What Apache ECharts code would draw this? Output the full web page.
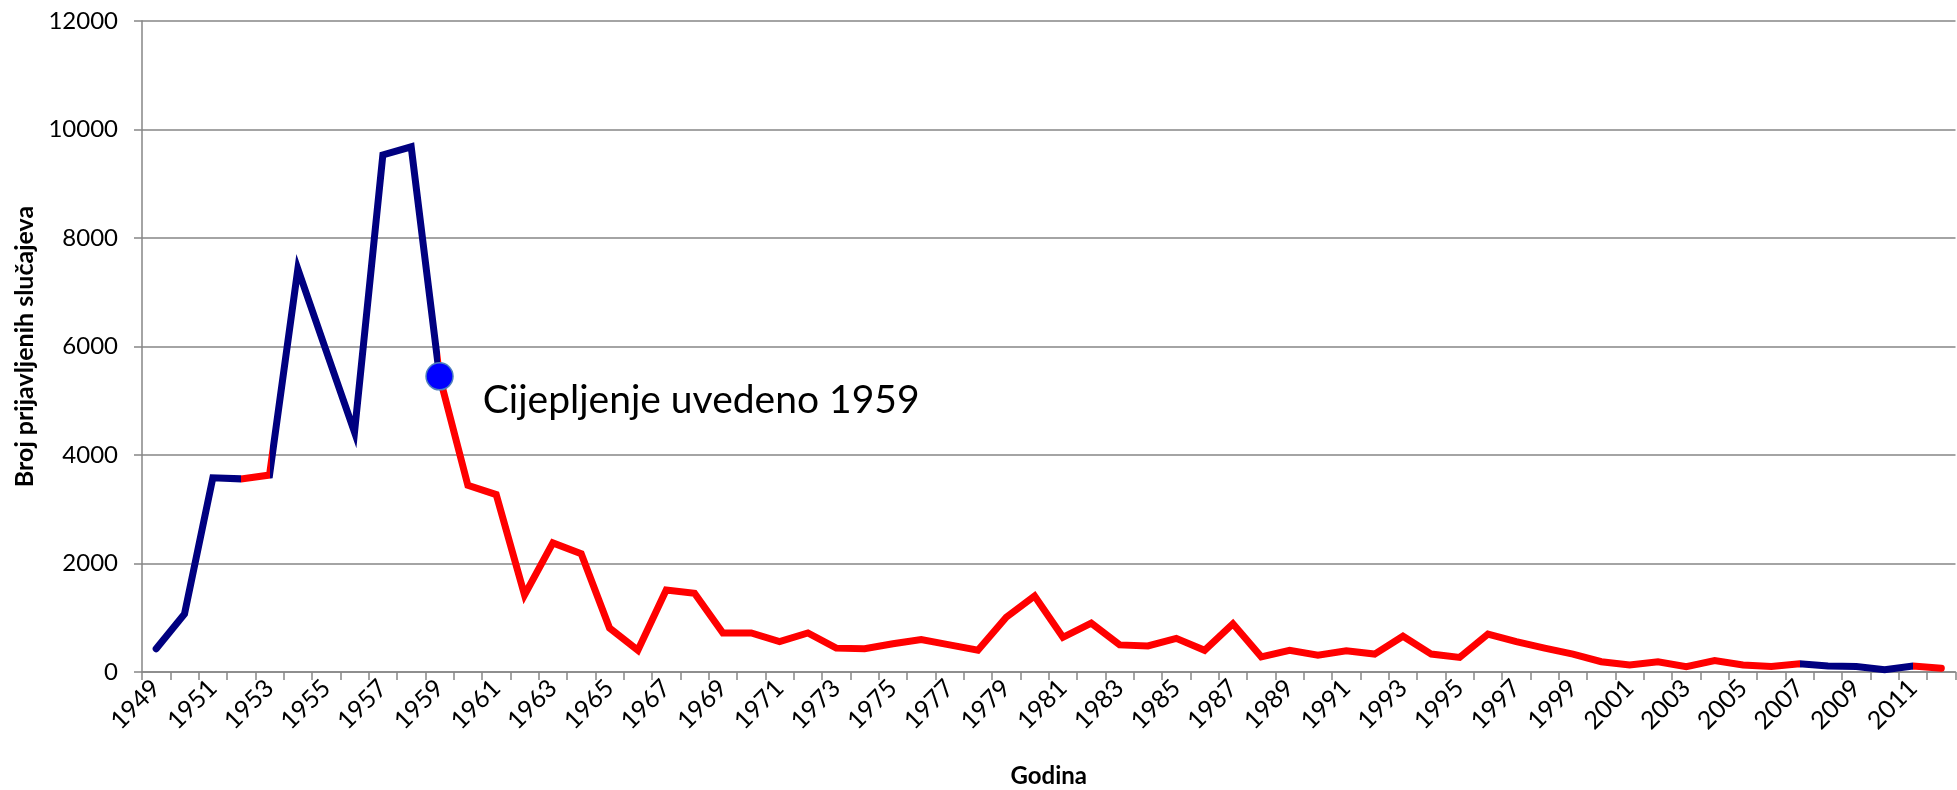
<!DOCTYPE html>
<html>
<head>
<meta charset="utf-8">
<script src="https://cdn.jsdelivr.net/npm/echarts@6/dist/echarts.min.js"></script>
<style>
  html, body { margin: 0; padding: 0; background: #fff; }
  #chart { width: 1957px; height: 790px; }
</style>
</head>
<body>
<div id="chart"></div>
<script>
// years shown on the category axis
const years = [];
for (let y = 1949; y <= 2012; y++) years.push(String(y));

// reported cases per year
const cases = [
  430, 1070, 3580, 3560, 3630, 7430, 5920, 4420, 9530, 9680,
  5450, 3440, 3270, 1420, 2380, 2180, 810, 400, 1510, 1450,
  720, 720, 560, 720, 440, 430, 520, 600, 500, 400,
  1010, 1400, 640, 900, 500, 480, 620, 400, 890, 280,
  400, 310, 390, 330, 660, 330, 270, 700, 560, 440,
  330, 190, 130, 190, 100, 210, 130, 100, 150, 110,
  100, 40, 110, 70
];

const yTicks = [0, 2000, 4000, 6000, 8000, 10000, 12000];
const markerYear = '1959';
const markerText = 'Cijepljenje uvedeno 1959';

const idx = y => years.indexOf(y);
const NAVY = '#000080';
const RED = '#ff0000';
const FONT = 'Lato';

const chart = echarts.init(document.getElementById('chart'), null, { renderer: 'canvas' });

const option = {
  animation: false,
  backgroundColor: '#fff',
  textStyle: { fontFamily: FONT, color: '#000' },
  grid: { left: 142, right: 1.5, top: 21, bottom: 118, containLabel: false, outerBoundsMode: 'none' },
  xAxis: {
    type: 'category',
    data: years,
    boundaryGap: true,
    name: 'Godina',
    nameLocation: 'middle',
    nameGap: 92,
    nameTextStyle: { fontFamily: FONT, fontWeight: 'bold', fontSize: 24, color: '#000' },
    axisLine: { lineStyle: { color: '#868686', width: 1.5 } },
    axisTick: { show: true, interval: 0, length: 8, lineStyle: { color: '#868686', width: 1.5 } },
    axisLabel: { interval: 1, rotate: 45, margin: 12, fontSize: 25, color: '#000', fontFamily: FONT },
    splitLine: { show: false }
  },
  yAxis: {
    type: 'value',
    min: yTicks[0],
    max: yTicks[yTicks.length - 1],
    interval: yTicks[1] - yTicks[0],
    name: 'Broj prijavljenih slučajeva',
    nameLocation: 'middle',
    nameGap: 102,
    nameTextStyle: { fontFamily: FONT, fontWeight: 'bold', fontSize: 25, color: '#000' },
    axisLine: { show: true, lineStyle: { color: '#868686', width: 1.5 } },
    axisTick: { show: true, length: 8, lineStyle: { color: '#868686', width: 1.5 } },
    axisLabel: { margin: 24, fontSize: 24, color: '#000', fontFamily: FONT, formatter: v => String(v) },
    splitLine: { show: true, lineStyle: { color: '#868686', width: 1.5 } }
  },
  visualMap: {
    show: false,
    seriesIndex: 0,
    dimension: 0,
    pieces: [
      { lte: idx('1952'), color: NAVY },
      { gt: idx('1952'), lte: idx('1953'), color: RED },
      { gt: idx('1953'), lte: idx('1959'), color: NAVY },
      { gt: idx('1959'), lte: idx('2007'), color: RED },
      { gt: idx('2007'), lte: idx('2011'), color: NAVY },
      { gt: idx('2011'), color: RED }
    ]
  },
  series: [
    {
      type: 'line',
      data: cases,
      showSymbol: false,
      symbol: 'none',
      lineStyle: { width: 7, cap: 'round', join: 'miter' },
      z: 2
    },
    {
      type: 'scatter',
      data: [[markerYear, cases[idx(markerYear)]]],
      symbol: 'circle',
      symbolSize: 27,
      itemStyle: { color: '#0000ff', opacity: 1, borderColor: '#4f81bd', borderWidth: 1.5 },
      label: {
        show: true,
        position: 'right',
        distance: 29,
        offset: [0, 24],
        formatter: markerText,
        fontFamily: FONT,
        fontSize: 39,
        color: '#000'
      },
      z: 3
    }
  ]
};

chart.setOption(option);
</script>
</body>
</html>
